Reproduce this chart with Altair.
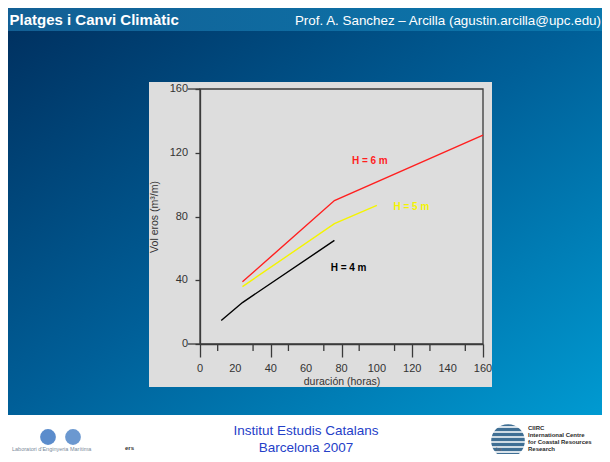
import math
import altair as alt
import pandas as pd

# ---------------- data ----------------
series_names = ["H = 4 m", "H = 5 m", "H = 6 m"]
series_colors = ["#000000", "#f4f400", "#ff1f1f"]

h4_x = [12, 24, 76]
h4_y = [14.7, 26, 65]
h5_x = [24, 76, 100]
h5_y = [36, 75.5, 87]
h6_x = [24, 76, 160]
h6_y = [39, 90, 131]

label_x = [84, 119.5, 96]
label_y = [47.7, 86, 114.8]

x_major = [0, 20, 40, 60, 80, 100, 120, 140, 160]
x_minor = [10, 30, 50, 70, 90, 110, 130, 150]
y_ticks = [0, 20, 40, 60, 80, 100, 120, 140, 160]
y_labels = [0, 40, 80, 120, 160]
y_long = [0, 160]

x_title = "duración (horas)"
y_title = "Vol eros (m³/m)"
header_left = "Platges i Canvi Climàtic"
header_right = "Prof.  A. Sanchez – Arcilla (agustin.arcilla@upc.edu)"
footer_lines = ["Institut Estudis Catalans", "Barcelona  2007"]
ciirc_lines = ["CIIRC", "International Centre", "for Coastal Resources", "Research"]

# ---------------- tables ----------------
rows = []
for name, xs, ys in zip(series_names, [h4_x, h5_x, h6_x], [h4_y, h5_y, h6_y]):
    for i, (xv, yv) in enumerate(zip(xs, ys)):
        rows.append({"series": name, "x": xv, "y": yv, "order": i})
lines_df = pd.DataFrame(rows)
labels_df = pd.DataFrame({"series": series_names, "x": label_x, "y": label_y})
minor_df = pd.DataFrame({"x": x_minor})
ylong_df = pd.DataFrame({"y": y_long})
xlab_df = pd.DataFrame({"x": x_major, "t": [str(v) for v in x_major]})
ylab_df = pd.DataFrame({"y": y_labels, "t": [str(v) for v in y_labels]})
one = pd.DataFrame({"a": [0]})

W, H = 283, 255
FONT = "Liberation Sans, Arial, sans-serif"
AX = "#3a3a3a"
LBL = "#333333"

color_scale = alt.Scale(domain=series_names, range=series_colors)
x_enc = alt.X(
    "x:Q",
    scale=alt.Scale(domain=[0, 160], nice=False),
    axis=alt.Axis(
        values=x_major, tickSize=13, labels=False,
        tickColor=AX, domainColor=AX,
        tickWidth=1.3, domainWidth=1.3, grid=False, zindex=1,
        title=x_title, titleFont=FONT, titleFontSize=10.5, titleFontWeight="normal",
        titleColor=LBL, titleX=W / 2, titleY=37, titleAlign="center",
        titleBaseline="middle", titleAnchor="middle",
    ),
)
y_enc = alt.Y(
    "y:Q",
    scale=alt.Scale(domain=[0, 160], nice=False),
    axis=alt.Axis(
        values=y_ticks, tickSize=5, labels=False,
        tickColor=AX, domainColor=AX,
        tickWidth=1.3, domainWidth=1.3, grid=False, zindex=1,
        title=y_title, titleFont=FONT, titleFontSize=10.5, titleFontWeight="normal",
        titleColor=LBL, titleAngle=-90, titleX=-46, titleY=H / 2,
        titleAlign="center", titleBaseline="middle",
    ),
)

# ---------------- slide decorations ----------------
bg_grad = alt.Gradient(
    gradient="linear",
    stops=[alt.GradientStop(color="#002e5d", offset=0),
           alt.GradientStop(color="#005f98", offset=0.5),
           alt.GradientStop(color="#009bd2", offset=1)],
    x1=0, y1=0, x2=1, y2=1,
)
hdr_grad = alt.Gradient(
    gradient="linear",
    stops=[alt.GradientStop(color="#135f94", offset=0),
           alt.GradientStop(color="#0a78ae", offset=1)],
    x1=0, y1=0, x2=1, y2=0,
)

def rect(fill, x, x2, y, y2, **kw):
    return alt.Chart(one).mark_rect(fill=fill, **kw).encode(
        x=alt.value(x), x2=alt.value(x2), y=alt.value(y), y2=alt.value(y2))

def text(t, x, y, size, color, weight="normal", align="left", font=FONT, baseline="alphabetic"):
    return alt.Chart(one).mark_text(
        text=t, fontSize=size, color=color, fontWeight=weight, align=align,
        baseline=baseline, font=font).encode(x=alt.value(x), y=alt.value(y))

bg = rect(bg_grad, -200, 410, -81, 326)
header = rect(hdr_grad, -200, 410, -81, -58)
panel = rect("#dddddd", -51, 292, -7, 298)

deco_text = [
    text(header_left, -190.5, -64, 15, "white", weight="bold"),
    text(header_right, 401, -64, 13.4, "white", align="right"),
    text(footer_lines[0], 106, 342, 13.5, "#2440c8", align="center", baseline="middle"),
    text(footer_lines[1], 106, 359, 13.5, "#2440c8", align="center", baseline="middle"),
    text("Laboratori d'Enginyeria Marítima", -188, 362, 5.5, "#7a8a9a"),
    text("ers", -75, 361, 6, "#333", weight="bold"),
    text("La", 296, 362, 5, "#667"),
]
for i, t in enumerate(ciirc_lines):
    deco_text.append(text(t, 328, 341 + 7 * i, 6, "#2a2a2a", weight="bold"))

GX, GY, GR = 308, 352, 19
logos = [
    alt.Chart(one).mark_circle(size=250, color="#5b8ccc", opacity=1).encode(
        x=alt.value(-152), y=alt.value(348)),
    alt.Chart(one).mark_circle(size=250, color="#6b98d0", opacity=1).encode(
        x=alt.value(-127), y=alt.value(348)),
    alt.Chart(one).mark_circle(size=math.pi * GR * GR, color="#3f6f94", opacity=1).encode(
        x=alt.value(GX), y=alt.value(GY)),
]
for dy in [-14, -9, -4, 1, 6, 11, 16]:
    half = math.sqrt(max(GR ** 2 - dy ** 2, 0))
    logos.append(alt.Chart(one).mark_rule(color="white", strokeWidth=1.6).encode(
        x=alt.value(GX - half), x2=alt.value(GX + half), y=alt.value(GY + dy)))

# ---------------- chart layers ----------------
frame = alt.Chart(one).mark_rect(fillOpacity=0, stroke=AX, strokeWidth=1.3).encode(
    x=alt.datum(0), x2=alt.datum(160), y=alt.datum(0), y2=alt.datum(160))

minor_ticks = alt.Chart(minor_df).mark_rule(color=AX, strokeWidth=1.3, y2Offset=7).encode(
    x=x_enc, y=alt.datum(0), y2=alt.datum(0))

long_y = alt.Chart(ylong_df).mark_rule(color=AX, strokeWidth=1.3, x2Offset=-12).encode(
    y=y_enc, x=alt.datum(0), x2=alt.datum(0))

x_labels = alt.Chart(xlab_df).mark_text(
    fontSize=11, font=FONT, color=LBL, baseline="middle", align="center", dy=25
).encode(x=x_enc, y=alt.datum(0), text="t:N")

y_labels_layer = alt.Chart(ylab_df).mark_text(
    fontSize=11, font=FONT, color=LBL, baseline="middle", align="right", dx=-12
).encode(y=y_enc, x=alt.datum(0), text="t:N")

lines = alt.Chart(lines_df).mark_line(strokeWidth=1.4).encode(
    x=x_enc, y=y_enc,
    color=alt.Color("series:N", scale=color_scale, legend=None),
    order="order:Q",
)

labels = alt.Chart(labels_df).mark_text(
    fontSize=10, fontWeight="bold", font=FONT, baseline="middle", align="center"
).encode(
    x=x_enc, y=y_enc, text="series:N",
    color=alt.Color("series:N", scale=color_scale, legend=None),
)

chart = alt.layer(
    bg, header, panel, *logos, *deco_text,
    frame, minor_ticks, long_y, x_labels, y_labels_layer, lines, labels,
).properties(
    width=W, height=H,
    autosize=alt.AutoSizeParams(type="none"),
    padding={"left": 192, "top": 81, "right": 119, "bottom": 110},
    background="white",
).configure_view(stroke=None)

chart.save("out.html", embed_options={"renderer": "svg", "actions": False})
